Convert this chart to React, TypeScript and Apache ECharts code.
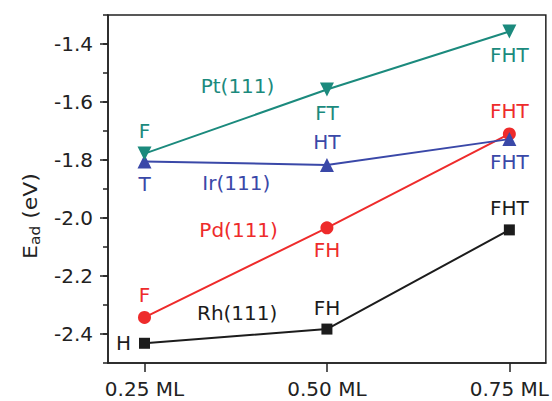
import React, { useEffect, useRef } from "react";
import * as echarts from "echarts";

const coverage = [0.25, 0.5, 0.75];
const xTickLabels = ["0.25 ML", "0.50 ML", "0.75 ML"];
const yTicks = [-2.4, -2.2, -2.0, -1.8, -1.6, -1.4];

const ptValues = [-1.778, -1.557, -1.357];
const irValues = [-1.805, -1.817, -1.728];
const pdValues = [-2.343, -2.034, -1.71];
const rhValues = [-2.432, -2.383, -2.041];

const ptSites = ["F", "FT", "FHT"];
const irSites = ["T", "HT", "FHT"];
const pdSites = ["F", "FH", "FHT"];
const rhSites = ["H", "FH", "FHT"];

const ptSitePos = ["top", "bottom", "bottom"];
const irSitePos = ["bottom", "top", "bottom"];
const pdSitePos = ["top", "bottom", "top"];
const rhSitePos = ["left", "top", "top"];

const surfaceNames = ["Pt(111)", "Ir(111)", "Pd(111)", "Rh(111)"];
const surfaceNameX = [0.3775, 0.3758, 0.379, 0.377];
const surfaceNameY = [-1.544, -1.878, -2.04, -2.327];

const FONT = "DejaVu Sans, Liberation Sans, Arial, sans-serif";
const FS = 20;
const COLORS = {
  Pt: "#1b8a7d",
  Ir: "#3a48a8",
  Pd: "#ee2b2b",
  Rh: "#1c1c1c",
};

function buildSeries(
  name: string,
  values: number[],
  sites: string[],
  pos: string[],
  color: string,
  symbol: string,
  symbolSize: number,
  symbolRotate: number
) {
  return {
    name,
    type: "line",
    symbol,
    symbolSize,
    symbolRotate,
    z: 3,
    lineStyle: { color, width: 2 },
    itemStyle: { color },
    data: values.map((v, i) => ({
      value: [coverage[i], v],
      label: {
        show: true,
        position: pos[i],
        distance: pos[i] === "left" ? 8 : 6,
        formatter: sites[i],
        color,
        fontSize: FS,
        fontFamily: FONT,
      },
    })),
  };
}

export default function App() {
  const ref = useRef<HTMLDivElement>(null);
  useEffect(() => {
    if (!ref.current) return;
    document.body.style.margin = "0";
    const chart = echarts.init(ref.current, null, { renderer: "svg" });
    const nameColors = [COLORS.Pt, COLORS.Ir, COLORS.Pd, COLORS.Rh];
    const option = {
      animation: false,
      grid: {
        left: 108,
        right: 3,
        top: 15,
        bottom: 38,
        show: true,
        borderColor: "#222",
        borderWidth: 1.5,
        backgroundColor: "transparent",
      },
      xAxis: {
        type: "value",
        min: 0.2,
        max: 0.8,
        splitLine: { show: false },
        axisLine: { show: true, lineStyle: { color: "#222", width: 1.5 } },
        axisTick: {
          show: true,
          customValues: coverage,
          length: 9,
          lineStyle: { color: "#222", width: 1.5 },
        },
        axisLabel: {
          customValues: coverage,
          formatter: (v: number) => {
            const i = coverage.findIndex((c) => Math.abs(c - v) < 1e-6);
            return i >= 0 ? xTickLabels[i] : "";
          },
          margin: 16,
          lineHeight: 20,
          color: "#222",
          fontSize: FS,
          fontFamily: FONT,
        },
      },
      yAxis: [
        {
          type: "value",
          min: -2.5,
          max: -1.3,
          splitLine: { show: false },
          axisLine: { show: true, lineStyle: { color: "#222", width: 1.5 } },
          axisTick: {
            show: true,
            customValues: yTicks,
            length: 8,
            lineStyle: { color: "#222", width: 1.5 },
          },
          axisLabel: {
            customValues: yTicks,
            formatter: (v: number) => v.toFixed(1),
            margin: 15,
            color: "#222",
            fontSize: FS,
            fontFamily: FONT,
          },
        },
        {
          type: "value",
          position: "left",
          min: -2.5,
          max: -1.3,
          interval: 0.1,
          splitLine: { show: false },
          axisLine: { show: false },
          axisTick: {
            show: true,
            length: 5,
            lineStyle: { color: "#222", width: 1.5 },
          },
          axisLabel: { show: false },
        },
      ],
      graphic: [
        {
          type: "text",
          x: 31,
          y: 216,
          rotation: Math.PI / 2,
          scaleX: 1.1,
          style: {
            text: "{e|E}{s|ad}{e| (eV)}",
            textAlign: "center",
            textVerticalAlign: "middle",
            fill: "#222",
            font: `20px ${FONT}`,
            rich: {
              e: {
                fontSize: 20,
                fontFamily: FONT,
                lineHeight: 22,
                verticalAlign: "top",
                fill: "#222",
              },
              s: {
                fontSize: 14,
                fontFamily: FONT,
                lineHeight: 14,
                verticalAlign: "bottom",
                fill: "#222",
              },
            },
          },
        },
      ],
      series: [
        buildSeries("Rh(111)", rhValues, rhSites, rhSitePos, COLORS.Rh, "rect", 11, 0),
        buildSeries("Pd(111)", pdValues, pdSites, pdSitePos, COLORS.Pd, "circle", 13, 0),
        buildSeries("Ir(111)", irValues, irSites, irSitePos, COLORS.Ir, "triangle", 14, 0),
        buildSeries("Pt(111)", ptValues, ptSites, ptSitePos, COLORS.Pt, "triangle", 14, 180),
        {
          type: "scatter",
          symbol: "circle",
          symbolSize: 1,
          silent: true,
          itemStyle: { color: "rgba(0,0,0,0)" },
          data: surfaceNames.map((n, i) => ({
            value: [surfaceNameX[i], surfaceNameY[i]],
            label: {
              show: true,
              position: "inside",
              formatter: n,
              color: nameColors[i],
              textBorderWidth: 0,
              textBorderColor: "transparent",
              opacity: 1,
              fontSize: FS,
              fontFamily: FONT,
            },
          })),
        },
      ],
    };
    chart.setOption(option as any);
    return () => chart.dispose();
  }, []);
  return <div ref={ref} style={{ width: 552, height: 401 }} />;
}
